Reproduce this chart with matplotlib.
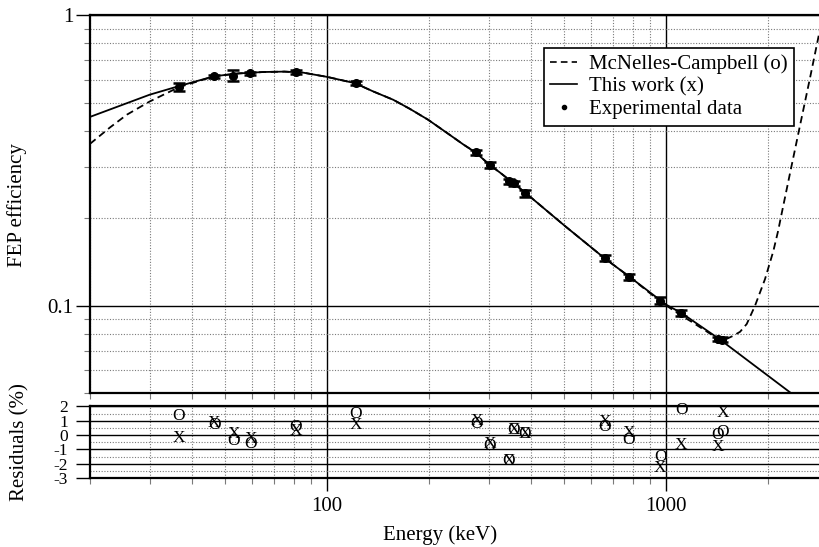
import matplotlib
matplotlib.use('Agg')
import matplotlib.pyplot as plt
from matplotlib.lines import Line2D
from matplotlib.ticker import FixedLocator, NullFormatter, FixedFormatter

plt.rcParams['font.family'] = ['Liberation Serif', 'DejaVu Serif']

# ---------------- data ----------------
energy = [36.5, 46.5, 53.0, 59.5, 81.0, 121.8, 276.4, 302.9, 344.3, 356.0,
          383.8, 661.7, 778.9, 964.0, 1112.0, 1425.0, 1470.0]
eff = [0.566, 0.617, 0.619, 0.632, 0.639, 0.584, 0.338, 0.306, 0.268, 0.264,
       0.2436, 0.1462, 0.1261, 0.1043, 0.0944, 0.0769, 0.0765]
eff_err = [0.018, 0.008, 0.027, 0.007, 0.009, 0.008, 0.007, 0.007, 0.005, 0.005,
           0.007, 0.003, 0.003, 0.003, 0.002, 0.0015, 0.0015]

res_this = [-0.23, 0.85, 0.10, -0.30, 0.30, 0.70, 0.95, -0.65, -1.80, 0.35,
            0.10, 0.93, 0.15, -2.33, -0.70, -0.82, 1.52]
res_mc = [1.33, 0.70, -0.42, -0.63, 0.55, 1.45, 0.80, -0.75, -1.80, 0.35,
          0.10, 0.58, -0.35, -1.56, 1.75, 0.00, 0.23]

fit_this_E = [20, 30, 36.5, 46.5, 55, 65, 75, 85, 100, 121, 137, 157, 176, 199,
              226, 253, 274, 303, 325, 387, 505, 659, 781, 1002, 1114, 1439, 2326]
fit_this_eff = [0.447, 0.533, 0.570, 0.617, 0.631, 0.638, 0.640, 0.635, 0.614,
                0.584, 0.547, 0.512, 0.476, 0.437, 0.394, 0.359, 0.338, 0.305,
                0.287, 0.244, 0.188, 0.146, 0.126, 0.101, 0.0944, 0.0769, 0.0504]

fit_mc_E = [20, 22.9, 25.7, 30, 34.5, 36.5, 46.5, 55, 65, 75, 85, 100, 121, 137,
            157, 176, 199, 226, 253, 274, 303, 325, 387, 505, 659, 781, 964,
            1112, 1180, 1382, 1447, 1514, 1583, 1657, 1734, 1834, 1963, 2077,
            2145, 2199, 2326, 2490, 2666, 2819, 2900]
fit_mc_eff = [0.361, 0.411, 0.455, 0.505, 0.547, 0.565, 0.617, 0.631, 0.638,
              0.640, 0.635, 0.614, 0.584, 0.547, 0.512, 0.476, 0.437, 0.394,
              0.359, 0.338, 0.305, 0.287, 0.244, 0.188, 0.146, 0.126, 0.1035,
              0.0925, 0.0888, 0.0789, 0.0759, 0.0770, 0.0789, 0.0814, 0.0866,
              0.100, 0.1235, 0.1541, 0.1805, 0.208, 0.2853, 0.417, 0.609,
              0.836, 0.979]

x_major = [100, 1000]
x_major_labels = ['100', '1000']
x_minor = [20, 30, 40, 50, 60, 70, 80, 90, 200, 300, 400, 500, 600, 700, 800,
           900, 2000]
y_major = [0.1, 1]
y_major_labels = ['0.1', '1']
y_minor = [0.05, 0.06, 0.07, 0.08, 0.09, 0.2, 0.3, 0.4, 0.5, 0.6, 0.7, 0.8, 0.9]
r_major = [-3, -2, -1, 0, 1, 2]
r_major_labels = ['-3', '-2', '-1', '0', '1', '2']
r_minor = [-2.5, -1.5, -0.5, 0.5, 1.5]

# ---------------- figure ----------------
W, H = 819, 547
fig = plt.figure(figsize=(W / 100, H / 100), dpi=100)
left_px, right_px = 90, 827.4
ax1 = fig.add_axes([left_px / W, 1 - 393.3 / H, (right_px - left_px) / W, (393.3 - 15.3) / H])
ax2 = fig.add_axes([left_px / W, 1 - 478.0 / H, (right_px - left_px) / W, (478.0 - 406.4) / H])

grid_major = dict(color='black', lw=1.0, ls='-')
grid_minor = dict(color='#7a7a7a', lw=0.8, ls=(0, (1, 1.5)))

for ax in (ax1, ax2):
    ax.set_xscale('log')
    ax.set_xlim(20, 3000)
    ax.xaxis.set_major_locator(FixedLocator(x_major))
    ax.xaxis.set_minor_locator(FixedLocator(x_minor))
    ax.xaxis.set_minor_formatter(NullFormatter())
    ax.grid(which='major', **grid_major)
    ax.grid(which='minor', **grid_minor)
    ax.set_axisbelow(True)
    for s in ('left', 'top', 'bottom'):
        ax.spines[s].set_linewidth(1.6)
    ax.spines['right'].set_visible(False)
    ax.tick_params(which='major', direction='out', length=10, width=1.0,
                   colors='black', labelsize=15)
    ax.tick_params(which='minor', direction='out', length=4, width=0.8,
                   color='#7a7a7a')
    ax.tick_params(axis='x', which='both', top=False)
    ax.tick_params(axis='y', which='both', right=False)

# ---- top panel ----
ax1.set_yscale('log')
ax1.set_ylim(0.05, 1)
ax1.yaxis.set_major_locator(FixedLocator(y_major))
ax1.yaxis.set_major_formatter(FixedFormatter(y_major_labels))
ax1.yaxis.set_minor_locator(FixedLocator(y_minor))
ax1.yaxis.set_minor_formatter(NullFormatter())
ax1.tick_params(axis='x', which='both', labelbottom=False)
ax1.tick_params(axis='y', which='major', pad=2)

ax1.plot(fit_mc_E, fit_mc_eff, color='black', lw=1.3, dashes=(4, 2.5), zorder=3)
ax1.plot(fit_this_E, fit_this_eff, color='black', lw=1.3, zorder=3)
ax1.errorbar(energy, eff, yerr=eff_err, fmt='o', color='black', ms=5.5,
             capsize=4, elinewidth=1.3, capthick=1.8, zorder=4)

handles = [Line2D([], [], color='black', lw=1.2, dashes=(4, 2.5)),
           Line2D([], [], color='black', lw=1.2),
           Line2D([], [], color='black', ls='none', marker='o', ms=3)]
leg = ax1.legend(handles, ['McNelles-Campbell (o)', 'This work (x)', 'Experimental data'],
                 loc='upper left', bbox_to_anchor=(0.6157, 0.9135), borderaxespad=0,
                 fontsize=15, frameon=True, fancybox=False, framealpha=1,
                 edgecolor='black', handlelength=1.3, handletextpad=0.55,
                 borderpad=0.3, labelspacing=0.15)
leg.get_frame().set_linewidth(1.2)
leg.set_zorder(10)

# ---- residual panel ----
ax2.set_ylim(-3, 2)
ax2.yaxis.set_major_locator(FixedLocator(r_major))
ax2.yaxis.set_major_formatter(FixedFormatter(r_major_labels))
ax2.yaxis.set_minor_locator(FixedLocator(r_minor))
ax2.yaxis.set_minor_formatter(NullFormatter())
ax2.xaxis.set_major_formatter(FixedFormatter(x_major_labels))
ax2.tick_params(axis='y', which='major', labelsize=12.5, pad=6)
ax2.tick_params(axis='y', which='minor', length=0)
ax2.tick_params(axis='x', which='major', length=9, pad=5)

for e, r in zip(energy, res_this):
    ax2.text(e, r, 'X', ha='center', va='center', fontsize=12.5, zorder=5)
for e, r in zip(energy, res_mc):
    ax2.text(e, r, 'O', ha='center', va='center', fontsize=12.5, zorder=5)

# ---- axis titles ----
fig.text(440 / W, 1 - 535 / H, 'Energy (keV)', ha='center', va='center', fontsize=15)
fig.text(17 / W, 1 - 205 / H, 'FEP efficiency', ha='center', va='center',
         rotation=90, fontsize=15)
fig.text(20 / W, 1 - 442 / H, 'Residuals (%)', ha='center', va='center',
         rotation=90, fontsize=15)

fig.savefig('out.png', dpi=100)
